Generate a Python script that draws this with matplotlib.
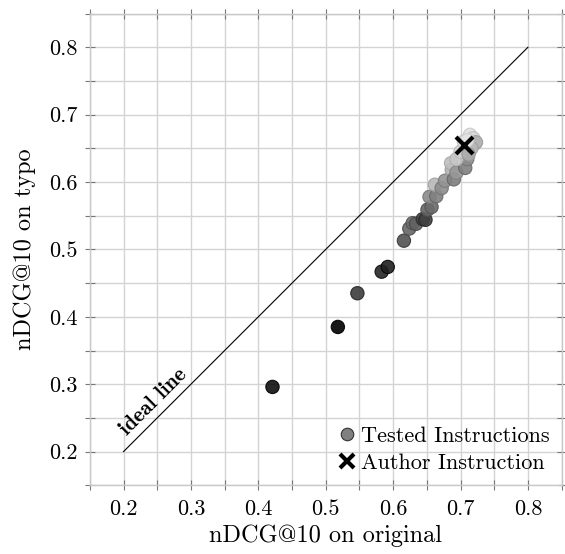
import matplotlib
matplotlib.use("Agg")
import matplotlib.pyplot as plt
from matplotlib.ticker import MultipleLocator
from matplotlib.lines import Line2D

plt.rcParams['font.family'] = ['cmr10', 'DejaVu Serif']
plt.rcParams['axes.formatter.use_mathtext'] = True

# Tested instructions: nDCG@10 on original vs typo, with gray level of each point
orig = [0.421, 0.518, 0.547, 0.583, 0.592, 0.616, 0.624, 0.629, 0.634, 0.644,
        0.648, 0.651, 0.657, 0.654, 0.664, 0.662, 0.672, 0.677, 0.687, 0.686,
        0.690, 0.694, 0.707, 0.710, 0.694, 0.700, 0.714, 0.719, 0.721, 0.723,
        0.716, 0.712, 0.705, 0.710]
typo = [0.296, 0.385, 0.435, 0.467, 0.474, 0.513, 0.531, 0.539, 0.538, 0.545,
        0.544, 0.559, 0.563, 0.578, 0.579, 0.596, 0.591, 0.602, 0.618, 0.628,
        0.604, 0.614, 0.621, 0.634, 0.634, 0.645, 0.670, 0.665, 0.657, 0.659,
        0.650, 0.641, 0.660, 0.662]
gray = [0.06, 0.0, 0.24, 0.15, 0.12, 0.32, 0.40, 0.42, 0.38, 0.27,
        0.25, 0.40, 0.42, 0.55, 0.50, 0.72, 0.55, 0.58, 0.70, 0.75,
        0.50, 0.60, 0.50, 0.55, 0.78, 0.82, 0.88, 0.85, 0.75, 0.70,
        0.72, 0.68, 0.85, 0.90]

author_orig = [0.705]
author_typo = [0.655]

ideal = [0.2, 0.8]

fig = plt.figure(figsize=(5.65, 5.54), dpi=100)
ax = fig.add_axes([0.159, 0.124, 0.835, 0.8515])

ax.set_xlim(0.15, 0.85)
ax.set_ylim(0.15, 0.85)

ax.xaxis.set_minor_locator(MultipleLocator(0.05))
ax.yaxis.set_minor_locator(MultipleLocator(0.05))
ticks = [0.2, 0.3, 0.4, 0.5, 0.6, 0.7, 0.8]
tick_labels = ['0.2', '0.3', '0.4', '0.5', '0.6', '0.7', '0.8']
ax.set_xticks(ticks)
ax.set_yticks(ticks)
ax.set_xticklabels(tick_labels)
ax.set_yticklabels(tick_labels)

ax.grid(True, which='both', color='#d3d3d3', linewidth=1.0, zorder=0)
ax.set_axisbelow(True)
for s in ax.spines.values():
    s.set_color('#c8c8c8')
    s.set_linewidth(1.0)

ax.tick_params(which='both', direction='inout', length=7, width=0.8,
               color='#777777', top=True, right=True, labelsize=16)
ax.tick_params(axis='x', pad=7)
ax.tick_params(axis='y', pad=5)

ax.plot(ideal, ideal, color='black', linewidth=0.8, zorder=2)
ax.text(0.244, 0.274, 'ideal line', rotation=45, ha='center', va='center',
        fontsize=15.5, family=['cmb10', 'DejaVu Serif'], zorder=3)

colors = [(g, g, g) for g in gray]
edges = [(max(g - 0.1, 0), max(g - 0.1, 0), max(g - 0.1, 0)) for g in gray]
ax.scatter(orig, typo, s=92, c=colors, edgecolors=edges, linewidths=0.8,
           alpha=0.9, zorder=4)
ax.scatter(author_orig, author_typo, marker='x', s=150, color='black',
           linewidths=3, zorder=5)

ax.set_xlabel('nDCG@10 on original', fontsize=17.5, labelpad=4)
ax.set_ylabel('nDCG@10 on typo', fontsize=17.5, labelpad=10)

handles = [
    Line2D([], [], marker='o', linestyle='none', markersize=9,
           markerfacecolor='#808080', markeredgecolor='#333333', markeredgewidth=0.8),
    Line2D([], [], marker='x', linestyle='none', markersize=10,
           color='black', markeredgewidth=3),
]
ax.legend(handles, ['Tested Instructions', 'Author Instruction'],
          loc='lower right', frameon=False, fontsize=16, handletextpad=0.1,
          handlelength=1.0, borderaxespad=0.15, labelspacing=0.35)

fig.savefig('out.png', dpi=100)
